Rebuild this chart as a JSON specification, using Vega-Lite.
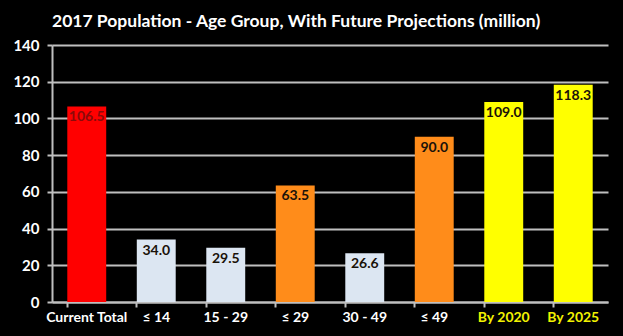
{
  "$schema": "https://vega.github.io/schema/vega-lite/v6.json",
  "width": 556,
  "height": 257,
  "autosize": {"type": "none"},
  "padding": {"left": 52, "top": 45, "right": 15, "bottom": 34},
  "background": "#000000",
  "title": {
    "text": "2017 Population - Age Group,  With Future Projections (million)",
    "anchor": "start",
    "frame": "group",
    "color": "#FFFFFF",
    "font": "Lato",
    "fontSize": 17.5,
    "fontWeight": "bold",
    "baseline": "bottom",
    "offset": -10
  },
  "config": {
    "view": {"stroke": null},
    "axis": {"labelFont": "Lato", "labelFontWeight": "bold"}
  },
  "data": {
    "values": [
      {"group": "Current Total", "population": 106.5, "kind": "total"},
      {"group": "≤ 14", "population": 34.0, "kind": "band"},
      {"group": "15 - 29", "population": 29.5, "kind": "band"},
      {"group": "≤ 29", "population": 63.5, "kind": "cumulative"},
      {"group": "30 - 49", "population": 26.6, "kind": "band"},
      {"group": "≤ 49", "population": 90.0, "kind": "cumulative"},
      {"group": "By 2020", "population": 109.0, "kind": "projection"},
      {"group": "By 2025", "population": 118.3, "kind": "projection"}
    ]
  },
  "encoding": {
    "x": {
      "field": "group",
      "type": "nominal",
      "sort": null,
      "scale": {"paddingInner": 0.44, "paddingOuter": 0.22},
      "axis": {
        "title": null,
        "labelAngle": 0,
        "labelColor": {"condition": {"test": "indexof(datum.label, 'By') == 0", "value": "#F2F200"}, "value": "#FFFFFF"},
        "labelFontSize": 14,
        "labelPadding": 3,
        "bandPosition": 0,
        "tickSize": 5,
        "tickColor": "#BFBFBF",
        "tickWidth": 2,
        "domainColor": "#BFBFBF",
        "domainWidth": 2
      }
    },
    "y": {
      "field": "population",
      "type": "quantitative",
      "scale": {"domain": [0, 140], "nice": false},
      "axis": {
        "title": null,
        "values": [0, 20, 40, 60, 80, 100, 120, 140],
        "labelColor": "#FFFFFF",
        "labelFontSize": 15,
        "labelPadding": 8,
        "tickSize": 5,
        "tickColor": "#BFBFBF",
        "tickWidth": 2,
        "domainColor": "#BFBFBF",
        "domainWidth": 2,
        "gridColor": "#BFBFBF",
        "gridWidth": 2
      }
    }
  },
  "layer": [
    {
      "mark": {"type": "bar"},
      "encoding": {
        "color": {
          "field": "kind",
          "type": "nominal",
          "legend": null,
          "scale": {
            "domain": ["total", "band", "cumulative", "projection"],
            "range": ["#FF0000", "#DCE6F2", "#FF8C1A", "#FFFF00"]
          }
        }
      }
    },
    {
      "mark": {"type": "text", "baseline": "top", "dy": 4, "font": "Lato", "fontSize": 14, "fontWeight": "bold"},
      "encoding": {
        "text": {"field": "population", "type": "quantitative", "format": ".1f"},
        "color": {"condition": {"test": "datum.kind == 'total'", "value": "#8B0A0A"}, "value": "#1A1209"}
      }
    }
  ]
}
